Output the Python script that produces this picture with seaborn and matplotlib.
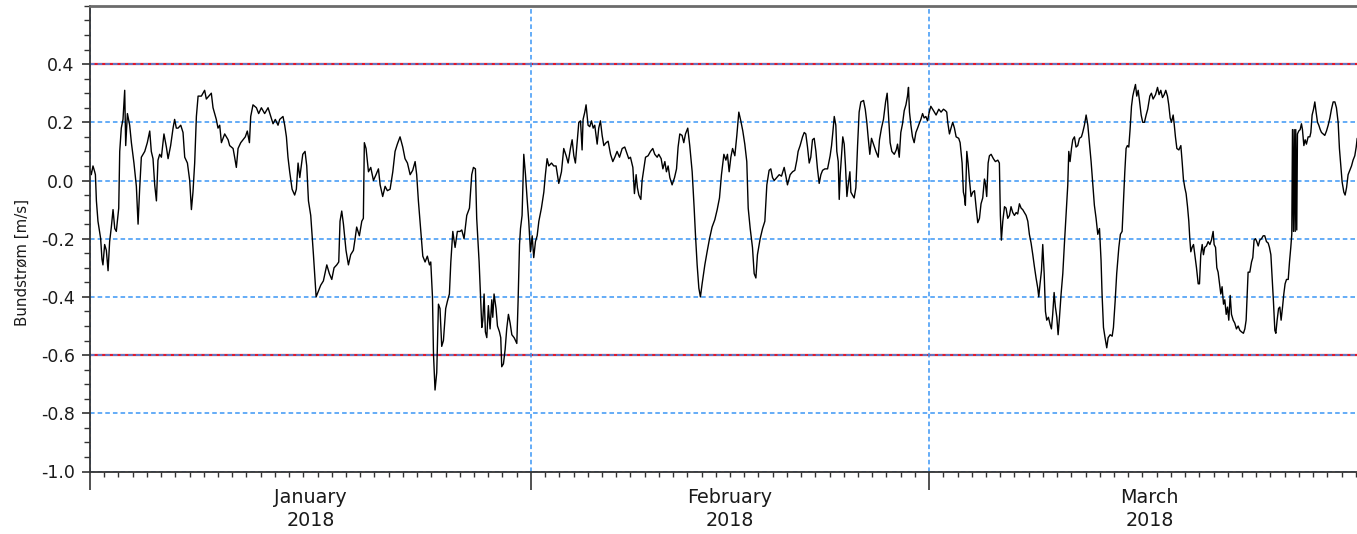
import numpy as np
import pandas as pd
import matplotlib
matplotlib.use("Agg")
import matplotlib.pyplot as plt
import matplotlib.dates as mdates
import matplotlib.transforms as mtransforms
from matplotlib.ticker import FixedLocator, MultipleLocator, NullFormatter, FormatStrFormatter
import seaborn as sns

sns.set_style("white")
plt.rcParams["font.family"] = ["DejaVu Sans"]
plt.rcParams["axes.unicode_minus"] = False

# ---- data -------------------------------------------------------------
start = pd.Timestamp("2018-01-01")

# time of each sample, in days after 1 January 2018
day_offset = [
    0.00, 0.09, 0.21, 0.33, 0.38, 0.45, 0.56, 0.75, 0.84, 0.91, 1.03, 1.15, 1.27, 1.38, 1.50,
    1.62, 1.74, 1.85, 2.02, 2.09, 2.20, 2.32, 2.44, 2.51, 2.63, 2.79, 2.91, 3.09, 3.26, 3.38,
    3.49, 3.61, 3.85, 4.03, 4.20, 4.31, 4.43, 4.55, 4.67, 4.78, 4.90, 5.02, 5.20, 5.37, 5.49,
    5.67, 5.84, 5.95, 6.07, 6.19, 6.38, 6.54, 6.66, 6.85, 7.01, 7.13, 7.24, 7.36, 7.48, 7.60,
    7.83, 8.06, 8.18, 8.35, 8.53, 8.65, 8.88, 9.00, 9.12, 9.24, 9.47, 9.71, 9.82, 10.06, 10.17,
    10.29, 10.41, 10.60, 10.76, 10.92, 11.06, 11.21, 11.30, 11.46, 11.70, 11.86, 12.05, 12.28, 12.52, 12.71,
    12.87, 13.03, 13.22, 13.34, 13.57, 13.69, 13.81, 13.92, 14.04, 14.21, 14.39, 14.51, 14.63, 14.75, 14.96,
    15.12, 15.24, 15.36, 15.52, 15.71, 15.90, 16.06, 16.22, 16.41, 16.65, 16.83, 17.00, 17.16, 17.35, 17.49,
    17.58, 17.70, 17.82, 18.00, 18.17, 18.33, 18.52, 18.64, 18.75, 18.94, 19.11, 19.22, 19.29, 19.41, 19.58,
    19.74, 19.93, 20.11, 20.28, 20.40, 20.58, 20.75, 20.91, 21.10, 21.29, 21.45, 21.61, 21.80, 21.99, 22.15,
    22.32, 22.51, 22.69, 22.86, 22.97, 23.09, 23.26, 23.40, 23.56, 23.72, 23.87, 23.96, 24.08, 24.15, 24.26,
    24.38, 24.50, 24.61, 24.73, 24.85, 25.01, 25.13, 25.27, 25.37, 25.51, 25.67, 25.83, 26.02, 26.14, 26.30,
    26.49, 26.68, 26.84, 26.96, 27.10, 27.19, 27.36, 27.47, 27.55, 27.62, 27.71, 27.80, 27.90, 28.01, 28.13,
    28.25, 28.32, 28.41, 28.55, 28.65, 28.79, 28.88, 28.95, 29.07, 29.19, 29.30, 29.42, 29.54, 29.66, 29.82,
    29.87, 30.01, 30.10, 30.20, 30.27, 30.38, 30.50, 30.62, 30.73, 30.85, 30.97, 31.09, 31.20, 31.32, 31.44,
    31.56, 31.74, 31.91, 32.02, 32.14, 32.26, 32.45, 32.61, 32.77, 32.96, 33.15, 33.31, 33.48, 33.62, 33.78,
    33.90, 34.02, 34.13, 34.25, 34.37, 34.49, 34.60, 34.67, 34.79, 34.88, 35.02, 35.14, 35.26, 35.38, 35.49,
    35.66, 35.77, 35.89, 36.01, 36.13, 36.29, 36.43, 36.60, 36.76, 36.90, 37.06, 37.23, 37.42, 37.60, 37.77,
    37.88, 38.00, 38.17, 38.28, 38.40, 38.49, 38.59, 38.73, 38.82, 38.94, 39.06, 39.24, 39.41, 39.57, 39.71,
    39.88, 39.99, 40.16, 40.28, 40.42, 40.53, 40.65, 40.77, 40.93, 41.10, 41.24, 41.35, 41.47, 41.63, 41.75,
    41.87, 42.03, 42.17, 42.34, 42.48, 42.57, 42.69, 42.81, 42.92, 43.04, 43.23, 43.39, 43.56, 43.74, 43.93,
    44.10, 44.26, 44.40, 44.57, 44.71, 44.82, 44.94, 45.06, 45.18, 45.34, 45.48, 45.62, 45.76, 45.90, 46.04,
    46.18, 46.28, 46.42, 46.58, 46.70, 46.82, 46.93, 47.12, 47.29, 47.45, 47.59, 47.75, 47.87, 47.99, 48.11,
    48.29, 48.46, 48.62, 48.81, 48.93, 49.04, 49.23, 49.40, 49.56, 49.70, 49.79, 49.93, 50.10, 50.22, 50.33,
    50.45, 50.57, 50.68, 50.80, 50.92, 51.04, 51.15, 51.27, 51.39, 51.51, 51.67, 51.86, 52.04, 52.14, 52.23,
    52.33, 52.44, 52.51, 52.61, 52.68, 52.75, 52.84, 52.93, 53.03, 53.12, 53.22, 53.31, 53.43, 53.50, 53.61,
    53.73, 53.85, 53.97, 54.08, 54.20, 54.39, 54.51, 54.62, 54.72, 54.83, 54.95, 55.09, 55.26, 55.42, 55.51,
    55.65, 55.79, 55.94, 56.05, 56.17, 56.26, 56.38, 56.55, 56.69, 56.78, 56.90, 57.01, 57.13, 57.25, 57.37,
    57.48, 57.55, 57.62, 57.72, 57.83, 57.95, 58.07, 58.19, 58.30, 58.42, 58.54, 58.65, 58.77, 58.89, 59.01,
    59.12, 59.31, 59.49, 59.68, 59.84, 60.01, 60.15, 60.24, 60.31, 60.43, 60.54, 60.66, 60.78, 60.90, 61.08,
    61.18, 61.32, 61.41, 61.48, 61.55, 61.65, 61.74, 61.83, 61.95, 62.07, 62.19, 62.30, 62.42, 62.54, 62.65,
    62.77, 62.89, 62.96, 63.05, 63.15, 63.24, 63.36, 63.52, 63.66, 63.83, 63.94, 64.01, 64.08, 64.18, 64.30,
    64.41, 64.53, 64.65, 64.76, 64.88, 65.00, 65.12, 65.23, 65.35, 65.47, 65.58, 65.70, 65.82, 65.94, 66.05,
    66.17, 66.29, 66.40, 66.52, 66.64, 66.71, 66.80, 66.90, 66.99, 67.09, 67.18, 67.27, 67.39, 67.51, 67.60,
    67.69, 67.79, 67.88, 67.98, 68.07, 68.16, 68.28, 68.40, 68.51, 68.63, 68.75, 68.82, 68.91, 69.01, 69.10,
    69.22, 69.33, 69.45, 69.57, 69.71, 69.80, 69.92, 70.04, 70.16, 70.27, 70.39, 70.51, 70.62, 70.74, 70.86,
    70.98, 71.09, 71.16, 71.26, 71.37, 71.49, 71.59, 71.73, 71.87, 71.96, 72.08, 72.19, 72.34, 72.45, 72.57,
    72.66, 72.76, 72.85, 72.94, 73.04, 73.13, 73.23, 73.32, 73.41, 73.51, 73.60, 73.70, 73.79, 73.91, 74.02,
    74.14, 74.26, 74.37, 74.52, 74.63, 74.75, 74.92, 75.06, 75.17, 75.29, 75.41, 75.53, 75.64, 75.76, 75.85,
    75.95, 76.04, 76.16, 76.23, 76.32, 76.42, 76.56, 76.70, 76.79, 76.88, 76.98, 77.07, 77.17, 77.26, 77.33,
    77.40, 77.49, 77.59, 77.68, 77.80, 77.92, 78.01, 78.10, 78.20, 78.29, 78.38, 78.50, 78.62, 78.74, 78.85,
    78.97, 79.04, 79.14, 79.23, 79.32, 79.42, 79.51, 79.60, 79.70, 79.79, 79.89, 79.98, 80.07, 80.17, 80.26,
    80.38, 80.49, 80.61, 80.73, 80.85, 80.96, 81.10, 81.20, 81.29, 81.36, 81.43, 81.55, 81.67, 81.76, 81.85,
    81.95, 82.04, 82.14, 82.25, 82.37, 82.49, 82.60, 82.72, 82.84, 82.93, 83.03, 83.12, 83.21, 83.31, 83.38,
    83.47, 83.57, 83.66, 83.75, 83.85, 83.94, 84.03, 84.13, 84.25, 84.34, 84.43, 84.50, 84.55, 84.62, 84.67,
    84.74, 84.78, 84.85, 84.90, 84.99, 85.09, 85.18, 85.25, 85.35, 85.44, 85.53, 85.65, 85.77, 85.84, 85.93,
    86.03, 86.12, 86.21, 86.31, 86.40, 86.50, 86.59, 86.71, 86.82, 86.94, 87.06, 87.18, 87.29, 87.41, 87.53,
    87.64, 87.76, 87.85, 87.95, 88.04, 88.16, 88.25, 88.35, 88.46, 88.58, 88.70, 88.81, 88.93, 89.03, 89.10,
]

# near-bottom current speed [m/s]
speed = [
    0.04, 0.02, 0.05, 0.03, 0.02, -0.07, -0.14, -0.20, -0.27, -0.29, -0.22, -0.24, -0.31, -0.21, -0.16,
    -0.10, -0.165, -0.175, -0.095, 0.10, 0.18, 0.21, 0.31, 0.12, 0.23, 0.19, 0.13, 0.06, -0.02, -0.15,
    -0.03, 0.08, 0.10, 0.13, 0.17, 0.10, 0.075, -0.015, -0.07, 0.07, 0.09, 0.08, 0.16, 0.115, 0.075,
    0.12, 0.18, 0.21, 0.18, 0.18, 0.19, 0.165, 0.08, 0.06, 0.00, -0.10, -0.04, 0.06, 0.22, 0.29,
    0.29, 0.31, 0.28, 0.29, 0.30, 0.25, 0.21, 0.18, 0.19, 0.13, 0.16, 0.14, 0.12, 0.11, 0.08,
    0.045, 0.11, 0.13, 0.14, 0.15, 0.17, 0.13, 0.22, 0.26, 0.25, 0.23, 0.25, 0.23, 0.25, 0.22,
    0.195, 0.21, 0.19, 0.21, 0.22, 0.19, 0.15, 0.08, 0.03, -0.03, -0.05, -0.03, 0.06, 0.01, 0.09,
    0.10, 0.05, -0.07, -0.12, -0.255, -0.40, -0.38, -0.36, -0.345, -0.29, -0.32, -0.34, -0.30, -0.29, -0.28,
    -0.14, -0.105, -0.15, -0.24, -0.29, -0.255, -0.24, -0.20, -0.16, -0.19, -0.14, -0.13, 0.13, 0.11, 0.03,
    0.045, 0.00, 0.02, 0.04, -0.015, -0.055, -0.02, -0.035, -0.03, 0.03, 0.10, 0.125, 0.15, 0.115, 0.075,
    0.06, 0.02, 0.035, 0.065, 0.02, -0.07, -0.175, -0.26, -0.28, -0.26, -0.29, -0.28, -0.40, -0.595, -0.72,
    -0.66, -0.425, -0.44, -0.57, -0.55, -0.44, -0.415, -0.39, -0.28, -0.175, -0.23, -0.175, -0.175, -0.17, -0.20,
    -0.12, -0.095, 0.02, 0.045, 0.04, -0.13, -0.28, -0.415, -0.505, -0.48, -0.39, -0.52, -0.54, -0.43, -0.51,
    -0.41, -0.47, -0.39, -0.44, -0.50, -0.52, -0.54, -0.64, -0.63, -0.58, -0.51, -0.46, -0.49, -0.53, -0.54,
    -0.545, -0.56, -0.415, -0.22, -0.165, -0.12, 0.09, 0.02, -0.06, -0.14, -0.245, -0.19, -0.265, -0.21, -0.19,
    -0.14, -0.095, -0.04, 0.02, 0.075, 0.05, 0.06, 0.05, 0.05, -0.01, 0.03, 0.11, 0.085, 0.06, 0.11,
    0.14, 0.085, 0.06, 0.13, 0.20, 0.205, 0.105, 0.21, 0.235, 0.26, 0.19, 0.185, 0.205, 0.18, 0.19,
    0.125, 0.18, 0.205, 0.155, 0.12, 0.13, 0.135, 0.09, 0.065, 0.08, 0.10, 0.08, 0.11, 0.115, 0.09,
    0.075, 0.08, 0.045, -0.045, 0.02, -0.025, -0.05, -0.065, 0.00, 0.04, 0.08, 0.085, 0.10, 0.11, 0.09,
    0.08, 0.09, 0.075, 0.04, 0.065, 0.03, 0.05, 0.01, -0.015, 0.01, 0.04, 0.115, 0.16, 0.155, 0.13,
    0.16, 0.18, 0.12, 0.03, -0.095, -0.185, -0.29, -0.37, -0.40, -0.355, -0.29, -0.245, -0.20, -0.16, -0.135,
    -0.10, -0.06, 0.02, 0.09, 0.07, 0.09, 0.03, 0.08, 0.11, 0.085, 0.155, 0.235, 0.205, 0.17, 0.125,
    0.065, -0.095, -0.165, -0.23, -0.32, -0.335, -0.255, -0.20, -0.165, -0.14, -0.015, 0.035, 0.04, 0.01, 0.00,
    0.01, 0.02, 0.015, 0.045, 0.015, -0.015, 0.02, 0.03, 0.035, 0.07, 0.10, 0.12, 0.15, 0.165, 0.16,
    0.115, 0.06, 0.08, 0.14, 0.145, 0.10, 0.04, -0.01, 0.02, 0.035, 0.04, 0.04, 0.085, 0.12, 0.165,
    0.22, 0.19, 0.10, 0.065, -0.065, 0.02, 0.085, 0.15, 0.125, 0.05, -0.055, -0.015, 0.03, -0.04, -0.05,
    -0.06, -0.025, 0.12, 0.235, 0.27, 0.275, 0.245, 0.20, 0.145, 0.09, 0.145, 0.125, 0.10, 0.08, 0.14,
    0.18, 0.21, 0.27, 0.30, 0.20, 0.13, 0.10, 0.09, 0.105, 0.125, 0.08, 0.165, 0.195, 0.24, 0.26,
    0.29, 0.32, 0.235, 0.19, 0.15, 0.13, 0.165, 0.18, 0.195, 0.21, 0.23, 0.215, 0.22, 0.205, 0.235,
    0.255, 0.24, 0.225, 0.245, 0.235, 0.245, 0.24, 0.235, 0.20, 0.16, 0.18, 0.20, 0.18, 0.15, 0.145,
    0.13, 0.06, -0.04, -0.055, -0.085, 0.10, 0.06, 0.005, -0.055, -0.04, -0.035, -0.09, -0.145, -0.13, -0.08,
    -0.06, 0.005, -0.01, -0.055, 0.06, 0.085, 0.09, 0.075, 0.065, 0.07, 0.06, -0.12, -0.205, -0.14, -0.09,
    -0.095, -0.13, -0.12, -0.09, -0.11, -0.12, -0.11, -0.115, -0.08, -0.095, -0.10, -0.11, -0.12, -0.14, -0.185,
    -0.215, -0.255, -0.295, -0.335, -0.37, -0.40, -0.355, -0.31, -0.22, -0.32, -0.45, -0.48, -0.47, -0.495, -0.51,
    -0.46, -0.385, -0.435, -0.47, -0.53, -0.475, -0.39, -0.32, -0.22, -0.12, -0.015, 0.10, 0.065, 0.11, 0.14,
    0.15, 0.115, 0.12, 0.145, 0.15, 0.165, 0.19, 0.225, 0.19, 0.13, 0.065, -0.015, -0.085, -0.13, -0.185,
    -0.165, -0.275, -0.39, -0.505, -0.54, -0.575, -0.54, -0.53, -0.535, -0.505, -0.415, -0.32, -0.23, -0.185, -0.175,
    -0.075, 0.03, 0.11, 0.12, 0.115, 0.175, 0.255, 0.29, 0.31, 0.33, 0.29, 0.31, 0.275, 0.225, 0.20,
    0.20, 0.225, 0.245, 0.29, 0.30, 0.28, 0.295, 0.32, 0.295, 0.31, 0.285, 0.295, 0.31, 0.29, 0.26,
    0.215, 0.20, 0.225, 0.195, 0.15, 0.11, 0.105, 0.12, 0.065, 0.005, -0.025, -0.045, -0.09, -0.14, -0.20,
    -0.245, -0.23, -0.22, -0.255, -0.30, -0.355, -0.355, -0.255, -0.22, -0.255, -0.23, -0.225, -0.21, -0.22, -0.205,
    -0.175, -0.22, -0.23, -0.30, -0.315, -0.355, -0.39, -0.365, -0.425, -0.41, -0.46, -0.435, -0.48, -0.395, -0.46,
    -0.48, -0.49, -0.51, -0.50, -0.515, -0.52, -0.525, -0.51, -0.48, -0.40, -0.315, -0.315, -0.28, -0.265, -0.205,
    -0.20, -0.21, -0.225, -0.205, -0.20, -0.19, -0.19, -0.21, -0.215, -0.23, -0.255, -0.335, -0.415, -0.515, -0.525,
    -0.48, -0.44, -0.435, -0.48, -0.435, -0.39, -0.355, -0.34, -0.34, -0.28, -0.23, -0.185, 0.175, -0.175, 0.175,
    -0.175, 0.175, -0.17, 0.16, 0.17, 0.175, 0.195, 0.175, 0.12, 0.14, 0.125, 0.15, 0.15, 0.165, 0.225,
    0.245, 0.27, 0.235, 0.20, 0.19, 0.175, 0.165, 0.16, 0.155, 0.17, 0.19, 0.215, 0.245, 0.27, 0.27,
    0.25, 0.20, 0.11, 0.05, -0.005, -0.04, -0.05, -0.025, 0.02, 0.035, 0.05, 0.07, 0.085, 0.115, 0.145,
]

limits = [0.4, -0.6]
y_ticks = [-1.0, -0.8, -0.6, -0.4, -0.2, 0.0, 0.2, 0.4]
month_labels = ["January\n2018", "February\n2018", "March\n2018"]
label_dates = ["2018-01-16 12:00", "2018-02-15 00:00", "2018-03-16 12:00"]

df = pd.DataFrame({
    "time": start + pd.to_timedelta(day_offset, unit="D"),
    "speed": speed,
})

# ---- figure -----------------------------------------------------------
W, H = 1357, 534
fig = plt.figure(figsize=(W / 100, H / 100), dpi=100)
ax = fig.add_axes([90 / W, 1 - 471.5 / H, 1280 / W, 465.6 / H])

text_color = "#1a1a1a"
grid_color = "#3a96f5"
axis_color = "#333333"

for lim in limits:
    ax.axhline(lim, color="#e3182b", lw=1.6, zorder=1)

sns.lineplot(data=df, x="time", y="speed", ax=ax, color="black",
             lw=1.0, estimator=None, zorder=3)

ax.set_xlim(start, start + pd.Timedelta(days=90))
ax.set_ylim(-1.0, 0.6)

# x axis: long ticks on month boundaries, short daily ticks
ax.xaxis.set_major_locator(mdates.MonthLocator())
ax.xaxis.set_minor_locator(mdates.DayLocator())
ax.xaxis.set_major_formatter(NullFormatter())
ax.xaxis.set_minor_formatter(NullFormatter())
ax.tick_params(axis="x", which="both", bottom=True, top=False)
ax.tick_params(axis="x", which="major", direction="out", length=13, width=1.2, color=axis_color)
ax.tick_params(axis="x", which="minor", direction="out", length=3.8, width=1.0, color=axis_color)

# y axis
ax.yaxis.set_major_locator(FixedLocator(y_ticks))
ax.yaxis.set_minor_locator(MultipleLocator(0.05))
ax.yaxis.set_major_formatter(FormatStrFormatter("%.1f"))
ax.tick_params(axis="y", which="both", left=True, right=False)
ax.tick_params(axis="y", which="major", direction="out", length=6, width=1.2,
               color=axis_color, labelsize=12.5, labelcolor=text_color, pad=5)
ax.tick_params(axis="y", which="minor", direction="out", length=4, width=1.0, color=axis_color)

ax.set_axisbelow(False)
ax.grid(True, which="major", color=grid_color, ls=(0, (3, 2)), lw=1.1)

ax.set_xlabel("")
ax.set_ylabel("")
fig.text(22 / W, 1 - 262 / H, "Bundstrøm [m/s]", rotation=90, ha="center", va="center",
         fontsize=10.8, color=text_color)

trans = mtransforms.blended_transform_factory(ax.transData, ax.transAxes)
for lab, d in zip(month_labels, label_dates):
    ax.text(mdates.date2num(pd.Timestamp(d)), -0.036, lab, transform=trans,
            ha="center", va="top", fontsize=13.8, color=text_color, linespacing=1.25)

for side in ["left", "bottom"]:
    ax.spines[side].set_color(axis_color)
    ax.spines[side].set_linewidth(1.3)
    ax.spines[side].set_zorder(4)
ax.spines["top"].set_color("#6b6b6b")
ax.spines["top"].set_linewidth(2.0)
ax.spines["top"].set_zorder(4)
ax.spines["right"].set_visible(False)

fig.savefig("out.png", dpi=100)
